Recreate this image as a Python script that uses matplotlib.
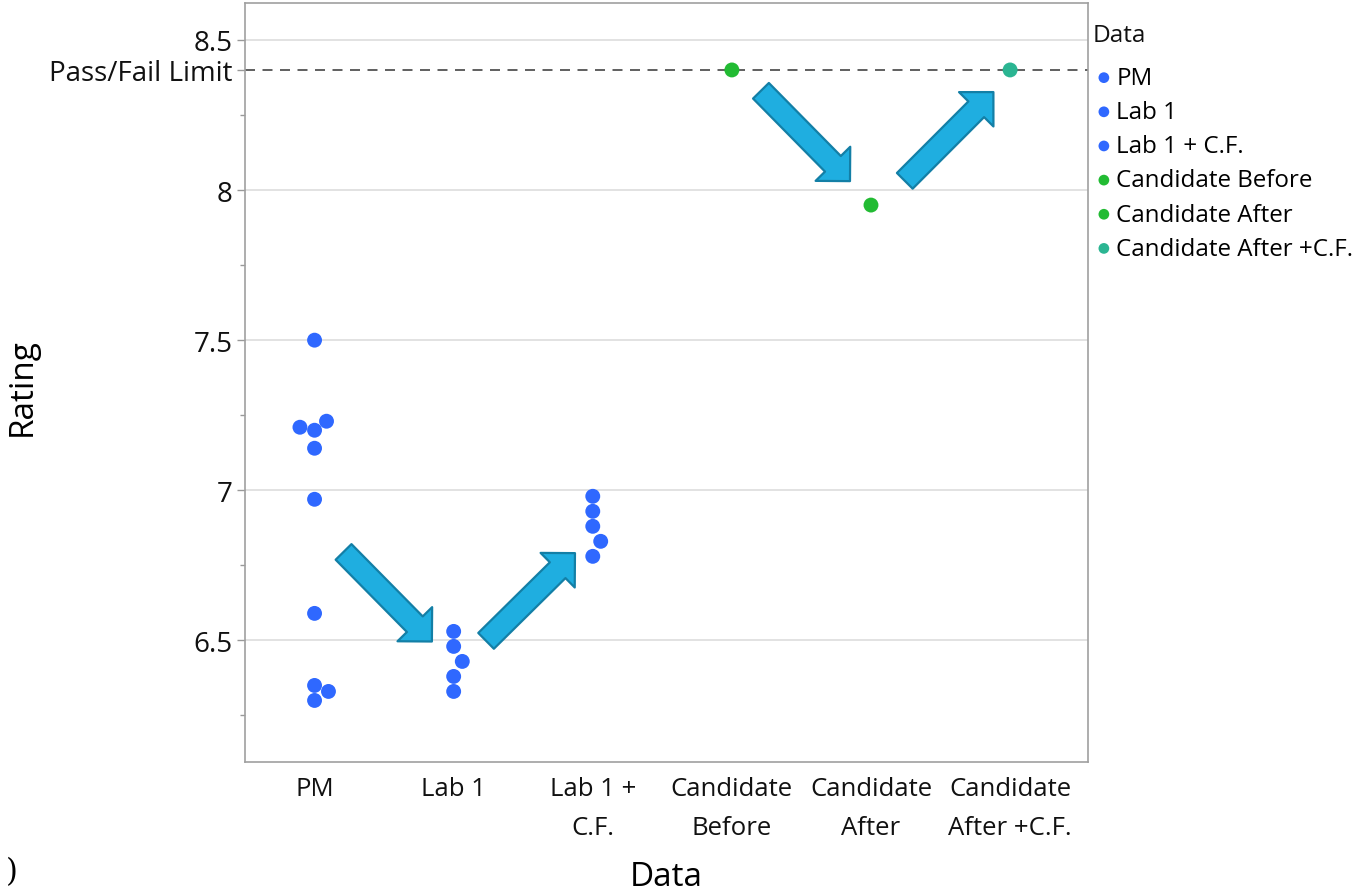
import matplotlib
matplotlib.use("Agg")
import matplotlib.pyplot as plt
from matplotlib.patches import FancyArrowPatch
import numpy as np

plt.rcParams['font.family'] = ['Open Sans', 'DejaVu Sans']

# ---- data ----
categories = ["PM", "Lab 1", "Lab 1 + C.F.", "Candidate Before", "Candidate After", "Candidate After +C.F."]
tick_labels = ["PM", "Lab 1", "Lab 1 +\nC.F.", "Candidate\nBefore", "Candidate\nAfter", "Candidate\nAfter +C.F."]
pm_values = [7.50, 7.21, 7.20, 7.23, 7.14, 6.97, 6.59, 6.35, 6.33, 6.30]
lab1_values = [6.53, 6.48, 6.43, 6.38, 6.33]
lab1_cf_values = [6.98, 6.93, 6.88, 6.83, 6.78]
cand_before_values = [8.40]
cand_after_values = [7.95]
cand_after_cf_values = [8.40]
pass_fail_limit = 8.40
y_ticks = [6.5, 7.0, 7.5, 8.0, 8.5]
y_tick_labels = ["6.5", "7", "7.5", "8", "8.5"]

series_values = [pm_values, lab1_values, lab1_cf_values,
                 cand_before_values, cand_after_values, cand_after_cf_values]

# ---- layout / style ----
# horizontal swarm offsets (layout only)
swarm_offsets = [
    [0, -0.105, 0, 0.086, 0, 0, 0, 0, 0.1, 0],
    [0, 0, 0.062, 0, 0],
    [0, 0, 0, 0.057, 0],
    [0], [0], [0],
]
colors = ["#2F68FF", "#2F68FF", "#2F68FF", "#22BB33", "#22BB33", "#2BB592"]

W, H = 1358, 895
fig = plt.figure(figsize=(W / 100, H / 100), dpi=100)
ax = fig.add_axes([245 / W, 1 - 763 / H, (1088 - 245) / W, (763 - 4) / H])

for i, (vals, offs, col, lab) in enumerate(zip(series_values, swarm_offsets, colors, categories)):
    xs = [i + o for o in offs]
    ax.scatter(xs, vals, s=115, color=col, edgecolors='none', label=lab, zorder=3)

ax.set_xlim(-0.5, 5.56)
ax.set_ylim(6.095, 8.623)

# grid lines
for yv in y_ticks:
    ax.axhline(yv, color="#E2E2E2", lw=1.4, zorder=0)
ax.axhline(pass_fail_limit, color="#444444", lw=1.2, ls=(0, (6, 4.5)), zorder=1)

ax.set_yticks(y_ticks + [pass_fail_limit])
ax.set_yticklabels(y_tick_labels + ["Pass/Fail Limit"], fontsize=20, color="#111111")
ax.set_yticks(np.arange(6.25, 8.6, 0.5), minor=True)
ax.tick_params(axis='y', which='major', length=6, width=1.0, color="#999999", pad=3)
ax.tick_params(axis='y', which='minor', length=3.5, width=1.0, color="#999999")

ax.set_xticks(range(len(categories)))
ax.set_xticklabels(tick_labels, fontsize=18.5, color="#111111", linespacing=1.72)
ax.tick_params(axis='x', length=0, pad=10)

for sp in ax.spines.values():
    sp.set_color("#A0A0A0")
    sp.set_linewidth(1.2)

ax.set_ylabel("Rating", fontsize=24)
ax.yaxis.label.set_va("center")
ax.yaxis.set_label_coords((22 - 245) / (1088 - 245), 0.495)
ax.set_xlabel("Data", fontsize=24)
ax.xaxis.label.set_va("center")
ax.xaxis.set_label_coords((666 - 245) / (1088 - 245), -(877 - 763) / (763 - 4))

# arrows (annotations)
arrow_specs = [
    ((0.2085, 6.7947), (0.8435, 6.4963)),
    ((1.233, 6.4985), (1.872, 6.7907)),
    ((3.209, 8.3307), (3.849, 8.0297)),
    ((4.243, 8.0307), (4.880, 8.3263)),
]
for (x0, y0), (x1, y1) in arrow_specs:
    arr = FancyArrowPatch((x0, y0), (x1, y1),
                          arrowstyle="simple,head_length=17.5,head_width=35,tail_width=16",
                          mutation_scale=1, shrinkA=0, shrinkB=0,
                          facecolor="#1FAEE0", edgecolor="#137FA6", lw=1.6, zorder=4)
    ax.add_patch(arr)

# legend
fig.text(1093 / W, 1 - 36 / H, "Data", fontsize=17.6, va="center", ha="left", color="#111111")
leg = fig.legend(loc="upper left", bbox_to_anchor=(1093 / W, 1 - 67 / H), frameon=False,
                 fontsize=17.4, markerscale=0.72, handletextpad=0.06,
                 handlelength=0.9, labelspacing=0.42, borderaxespad=0, borderpad=0)

fig.text(0.004, 0.016, ")", fontsize=22, family="DejaVu Serif")

fig.savefig("out.png", dpi=100)
